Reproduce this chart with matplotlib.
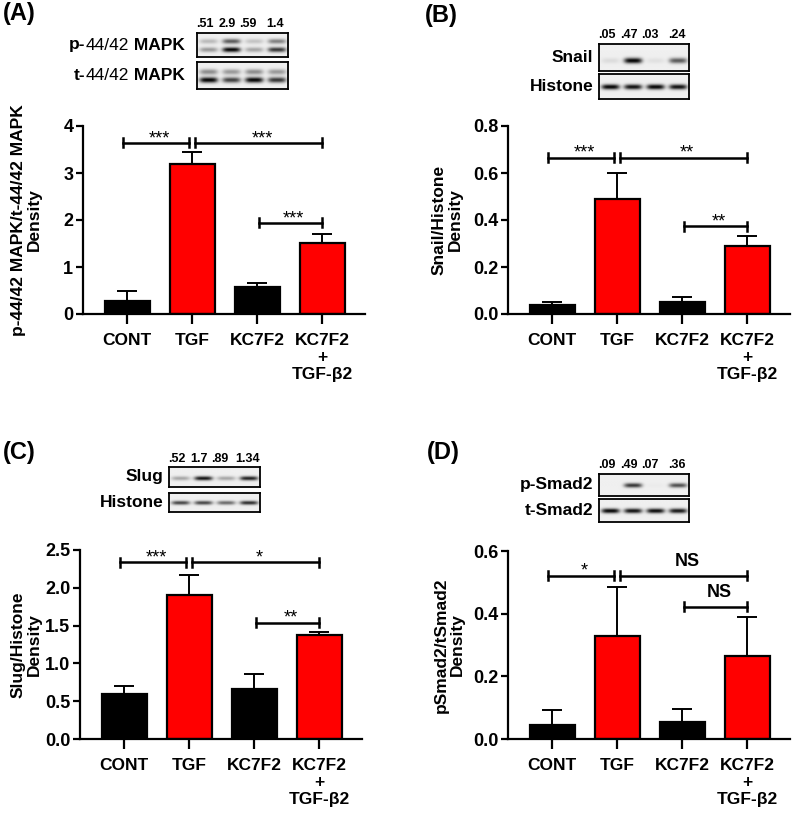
import matplotlib
matplotlib.use("Agg")
import matplotlib.pyplot as plt
import numpy as np
from matplotlib.offsetbox import TextArea, HPacker, AnnotationBbox

plt.rcParams['font.family'] = ['Liberation Sans', 'DejaVu Sans']
plt.rcParams['font.weight'] = 'bold'
plt.rcParams['axes.labelweight'] = 'bold'

groups = ["CONT", "TGF", "KC7F2", "KC7F2\n+\nTGF-β2"]
bar_colors = ["black", "red", "black", "red"]

# bar heights and upper SEM
mapk_mean = [0.27, 3.20, 0.58, 1.52]
mapk_err = [0.21, 0.25, 0.08, 0.18]
snail_mean = [0.040, 0.490, 0.050, 0.288]
snail_err = [0.010, 0.110, 0.022, 0.042]
slug_mean = [0.60, 1.90, 0.66, 1.37]
slug_err = [0.10, 0.27, 0.20, 0.05]
smad_mean = [0.045, 0.330, 0.055, 0.265]
smad_err = [0.047, 0.155, 0.040, 0.125]

# significance brackets: (from, to, level, label)
mapk_sig = [(-0.07, 0.95, 3.64, "***"), (1.05, 3.0, 3.64, "***"), (2.03, 3.0, 1.94, "***")]
snail_sig = [(-0.07, 0.95, 0.665, "***"), (1.05, 3.0, 0.665, "**"), (2.03, 3.0, 0.374, "**")]
slug_sig = [(-0.07, 0.95, 2.34, "***"), (1.05, 3.0, 2.34, "*"), (2.03, 3.0, 1.54, "**")]
smad_sig = [(-0.07, 0.95, 0.521, "*"), (1.05, 3.0, 0.521, "NS"), (2.03, 3.0, 0.422, "NS")]

# densitometry numbers printed above the blots
mapk_nums = [".51", "2.9", ".59", "1.4"]
snail_nums = [".05", ".47", ".03", ".24"]
slug_nums = [".52", "1.7", ".89", "1.34"]
smad_nums = [".09", ".49", ".07", ".36"]

# band darkness per lane (rows = bands within a strip)
p_mapk_bands = [[0.22, 0.60, 0.18, 0.45], [0.35, 0.95, 0.30, 0.75]]
t_mapk_bands = [[0.40, 0.35, 0.40, 0.35], [0.95, 0.70, 0.95, 0.75]]
snail_bands = [[0.08, 0.95, 0.06, 0.60]]
histone_b_bands = [[0.95, 0.90, 0.95, 0.90]]
slug_bands = [[0.30, 0.90, 0.30, 0.85]]
histone_c_bands = [[0.70, 0.70, 0.55, 0.80]]
p_smad_bands = [[0.0, 0.75, 0.02, 0.65]]
t_smad_bands = [[0.95, 0.90, 0.92, 0.88]]

W, H = 800, 817
fig = plt.figure(figsize=(W / 100, H / 100), dpi=100)


def px_axes(x0, y0, x1, y1):
    return fig.add_axes([x0 / W, 1 - y1 / H, (x1 - x0) / W, (y1 - y0) / H])


def blot_image(bands, band_y, w=120, h=30):
    xx, yy = np.meshgrid(np.arange(w), np.arange(h))
    img = np.full((h, w), 0.06)
    for row, yc in zip(bands, band_y):
        for i, v in enumerate(row):
            cx = (i + 0.5) / 4 * w
            img += v * np.exp(-(np.abs(xx - cx) / (w * 0.1)) ** 4) * np.exp(-((yy - yc * h) / (h * 0.1)) ** 2)
    return np.clip(img, 0, 1)


def draw_strip(box, bands, band_y):
    ax = px_axes(*box)
    ax.imshow(blot_image(bands, band_y), cmap="gray_r", vmin=0, vmax=1, aspect="auto",
              interpolation="bicubic")
    ax.set_xticks([])
    ax.set_yticks([])
    for s in ax.spines.values():
        s.set_linewidth(1.3)
    return ax


def strip_label(ax, parts, gap=6):
    children = [TextArea(t, textprops=dict(fontsize=12.5, weight=wt, color="black")) for t, wt in parts]
    pack = HPacker(children=children, pad=0, sep=0, align="baseline")
    ab = AnnotationBbox(pack, (0, 0.5), xycoords=ax.transAxes, xybox=(-gap, 0), boxcoords="offset points",
                        box_alignment=(1, 0.5), frameon=False, pad=0)
    fig.add_artist(ab)


def lane_numbers(ax, nums):
    # numbers sit a little left of the lane centres in the original
    for frac, n in zip([0.09, 0.33, 0.56, 0.86], nums):
        ax.text(frac, 1.12, n, transform=ax.transAxes, ha="center", va="bottom", fontsize=9)


def bar_panel(box, means, errs, sig, ymax, step, fmt, ylabel, label_x):
    ax = px_axes(*box)
    x = np.arange(len(groups))
    ax.bar(x, means, width=0.69, color=bar_colors, edgecolor="black", linewidth=1.6, zorder=2)
    ax.errorbar(x, means, yerr=[np.zeros(len(errs)), errs], fmt="none", ecolor="black",
                elinewidth=1.4, capsize=7.5, capthick=1.4, zorder=1)
    ax.set_xlim(-0.68, 3.66)
    ax.set_ylim(0, ymax)
    ticks = np.arange(0, ymax + step / 2, step)
    ax.set_yticks(ticks)
    ax.set_yticklabels([fmt.format(t) for t in ticks])
    ax.set_xticks(x)
    ax.set_xticklabels(groups, linespacing=1.15)
    ax.tick_params(axis="both", direction="out", width=1.6, labelsize=12.5)
    ax.tick_params(axis="y", length=5, pad=2, labelsize=13)
    ax.tick_params(axis="x", length=7, pad=7)
    for side in ["top", "right"]:
        ax.spines[side].set_visible(False)
    for side in ["left", "bottom"]:
        ax.spines[side].set_linewidth(1.6)
    ax.set_ylabel(ylabel, fontsize=12.5, linespacing=1.1)
    ax.yaxis.set_label_coords(label_x, 0.5)

    cap = 0.024 * ymax
    for x0, x1, y, lab in sig:
        ax.plot([x0, x1], [y, y], color="black", lw=1.8, clip_on=False)
        ax.plot([x0, x0], [y - cap, y + cap], color="black", lw=1.8, clip_on=False)
        ax.plot([x1, x1], [y - cap, y + cap], color="black", lw=1.8, clip_on=False)
        if lab == "NS":
            ax.annotate(lab, ((x0 + x1) / 2 + 0.05, y), xytext=(0, 4), textcoords="offset points",
                        ha="center", va="bottom", fontsize=13)
        else:
            ax.annotate(lab, ((x0 + x1) / 2 + 0.05, y), xytext=(0, -3), textcoords="offset points",
                        ha="center", va="bottom", fontsize=13, weight="normal")
    return ax


# panel letters
fig.text(3 / W, 1 - 2 / H, "(A)", fontsize=17, va="top")
fig.text(425 / W, 1 - 4 / H, "(B)", fontsize=17, va="top")
fig.text(3 / W, 1 - 441 / H, "(C)", fontsize=17, va="top")
fig.text(427 / W, 1 - 441 / H, "(D)", fontsize=17, va="top")

# (A) p-44/42 MAPK
a1 = draw_strip((197, 33, 288, 57), p_mapk_bands, [0.33, 0.68])
a2 = draw_strip((197, 62, 288, 89), t_mapk_bands, [0.35, 0.65])
lane_numbers(a1, mapk_nums)
strip_label(a1, [("p-", "bold"), ("44/42", "normal"), (" MAPK", "bold")], gap=9)
strip_label(a2, [("t-", "bold"), ("44/42", "normal"), (" MAPK", "bold")], gap=9)
bar_panel((83, 126, 365, 314), mapk_mean, mapk_err, mapk_sig, 4, 1, "{:.0f}",
          "p-44/42 MAPK/t-44/42 MAPK\nDensity", -0.145)

# (B) Snail
b1 = draw_strip((599, 44, 689, 71), snail_bands, [0.6])
b2 = draw_strip((599, 74, 689, 99), histone_b_bands, [0.5])
lane_numbers(b1, snail_nums)
strip_label(b1, [("Snail", "bold")], gap=4)
strip_label(b2, [("Histone", "bold")], gap=4)
bar_panel((508, 126, 790, 314), snail_mean, snail_err, snail_sig, 0.8, 0.2, "{:.1f}",
          "Snail/Histone\nDensity", -0.16)

# (C) Slug
c1 = draw_strip((169, 467, 260, 487), slug_bands, [0.55])
c2 = draw_strip((169, 493, 260, 512), histone_c_bands, [0.5])
lane_numbers(c1, slug_nums)
strip_label(c1, [("Slug", "bold")], gap=4)
strip_label(c2, [("Histone", "bold")], gap=4)
bar_panel((80, 550, 362, 739), slug_mean, slug_err, slug_sig, 2.5, 0.5, "{:.1f}",
          "Slug/Histone\nDensity", -0.135)

# (D) p-Smad2
d1 = draw_strip((599, 474, 689, 496), p_smad_bands, [0.5])
d2 = draw_strip((599, 499, 689, 522), t_smad_bands, [0.5])
lane_numbers(d1, smad_nums)
strip_label(d1, [("p-Smad2", "bold")], gap=4)
strip_label(d2, [("t-Smad2", "bold")], gap=4)
bar_panel((508, 551, 790, 739), smad_mean, smad_err, smad_sig, 0.6, 0.2, "{:.1f}",
          "pSmad2/tSmad2\nDensity", -0.152)

fig.savefig("out.png", dpi=100)
